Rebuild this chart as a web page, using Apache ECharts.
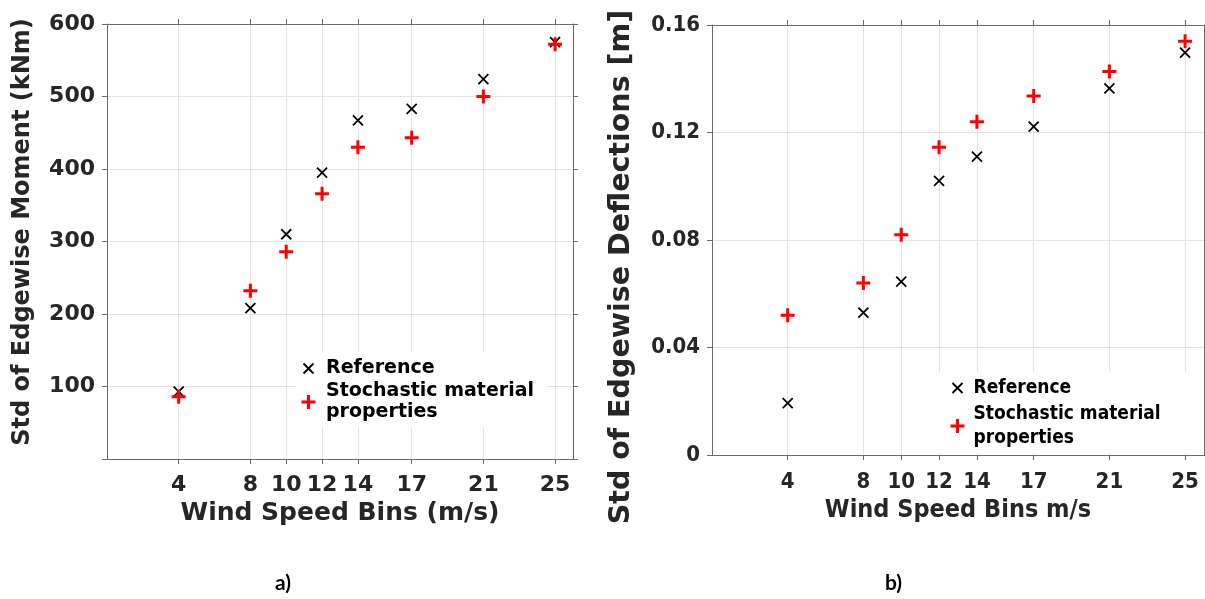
<!DOCTYPE html>
<html>
<head>
<meta charset="utf-8">
<script src="https://cdn.jsdelivr.net/npm/echarts@6/dist/echarts.min.js"></script>
<style>
  html, body { margin: 0; padding: 0; background: #ffffff; }
  #chart { width: 1205px; height: 599px; }
</style>
</head>
<body>
<div id="chart"></div>
<script>
// Wind speed bins (m/s) shared by both panels
const windBins = [4, 8, 10, 12, 14, 17, 21, 25];

// Panel a) std of edgewise moment (kNm)
const momentReference  = [93, 208, 310, 395, 467, 483, 524, 575];
const momentStochastic = [86, 232, 286, 366, 430, 443, 500, 572];

// Panel b) std of edgewise deflections (m)
const deflReference  = [0.0193, 0.053, 0.0645, 0.102, 0.111, 0.1222, 0.1364, 0.1497];
const deflStochastic = [0.052, 0.064, 0.082, 0.1145, 0.124, 0.1336, 0.1427, 0.154];

const seriesNames = ['Reference', 'Stochastic material properties'];

const FONT = '"DejaVu Sans", sans-serif';
const FONT_C = '"DejaVu Sans Condensed", "DejaVu Sans", sans-serif';
const TEXT = '#262626';
const AXIS = '#6b6b6b';
const GRID = '#e3e3e3';

// marker shapes: a thin cross for the reference, a plus for the stochastic runs
const crossPath = 'path://M0,0L10,10M10,0L0,10';
const plusPath = 'path://M7,0L7,14M0,7L14,7';
const crossLegendPath = 'path://M2,2L12,12M12,2L2,12M0,0M14,14';

const crossStyle = { color: '#000000', borderColor: '#000000', borderWidth: 1.8, opacity: 1 };
const plusStyle = { color: '#ff0000', borderColor: '#ff0000', borderWidth: 3, opacity: 1 };

function pairs(xs, ys) { return xs.map((x, i) => [x, ys[i]]); }

function bottomAxis(grid, name, family, gap, margin) {
  return {
    gridIndex: grid, type: 'value', position: 'bottom', min: 0, max: 26,
    axisLine: { show: true, onZero: false, lineStyle: { color: AXIS, width: 1 } },
    axisTick: { show: true, inside: false, length: 5, customValues: windBins, lineStyle: { color: AXIS } },
    axisLabel: { customValues: windBins, margin: margin, color: TEXT, fontFamily: family, fontWeight: 'bold', fontSize: 22 },
    splitLine: { show: true, lineStyle: { color: GRID, width: 1 } },
    name: name, nameLocation: 'middle', nameGap: gap,
    nameTextStyle: { color: TEXT, fontFamily: family, fontWeight: 'bold', fontSize: 25 }
  };
}
function topAxis(grid) {
  return {
    gridIndex: grid, type: 'value', position: 'top', min: 0, max: 26,
    axisLine: { show: true, onZero: false, lineStyle: { color: AXIS, width: 1 } },
    axisTick: { show: true, inside: false, length: 5, customValues: windBins, lineStyle: { color: AXIS } },
    axisLabel: { show: false },
    splitLine: { show: false }
  };
}
function leftAxis(grid, max, interval, formatter, family) {
  return {
    gridIndex: grid, type: 'value', position: 'left', min: 0, max: max, interval: interval,
    axisLine: { show: true, onZero: false, lineStyle: { color: AXIS, width: 1 } },
    axisTick: { show: true, inside: false, length: 5, lineStyle: { color: AXIS } },
    axisLabel: { margin: 12, formatter: formatter, color: TEXT, fontFamily: family, fontWeight: 'bold', fontSize: 22 },
    splitLine: { show: true, lineStyle: { color: GRID, width: 1 } }
  };
}
function rightAxis(grid, max, interval) {
  return {
    gridIndex: grid, type: 'value', position: 'right', min: 0, max: max, interval: interval,
    axisLine: { show: true, onZero: false, lineStyle: { color: AXIS, width: 1 } },
    axisTick: { show: true, inside: false, length: 5, lineStyle: { color: AXIS } },
    axisLabel: { show: false },
    splitLine: { show: false }
  };
}

function legendBlock(left, top, padding, itemWidth, family, fontSize, lineHeight, itemGap) {
  return {
    orient: 'vertical', left: left, top: top, padding: padding,
    backgroundColor: '#ffffff', itemGap: itemGap,
    itemWidth: itemWidth, itemHeight: 14, selectedMode: false,
    data: [
      { name: seriesNames[0], icon: crossLegendPath, itemStyle: crossStyle },
      { name: seriesNames[1], icon: plusPath, itemStyle: plusStyle }
    ],
    formatter: n => n.replace(' properties', '\nproperties'),
    textStyle: { color: '#000000', fontFamily: family, fontWeight: 'bold', fontSize: fontSize, lineHeight: lineHeight }
  };
}

const chart = echarts.init(document.getElementById('chart'), null, { renderer: 'canvas' });

chart.setOption({
  animation: false,
  backgroundColor: '#ffffff',
  grid: [
    { left: 107, top: 24, width: 466, height: 435, containLabel: false },
    { left: 712, top: 25, width: 492, height: 430, containLabel: false }
  ],
  xAxis: [
    bottomAxis(0, 'Wind Speed Bins (m/s)', FONT, 40, 15),
    topAxis(0),
    bottomAxis(1, 'Wind Speed Bins m/s', FONT_C, 42, 16),
    topAxis(1)
  ],
  yAxis: [
    leftAxis(0, 600, 100, v => (v === 0 ? '' : String(v)), FONT),
    rightAxis(0, 600, 100),
    leftAxis(1, 0.16, 0.04, v => (v === 0 ? '0' : v.toFixed(2)), FONT_C),
    rightAxis(1, 0.16, 0.04)
  ],
  legend: [
    legendBlock(295, 352, [6, 13, 4, 5], 25, FONT, 19, 21, 2),
    legendBlock(934, 372, [4, 37, 3, 15], 22, FONT_C, 19, 24, 2)
  ],
  series: [
    { name: seriesNames[0], type: 'scatter', xAxisIndex: 0, yAxisIndex: 0,
      symbol: crossPath, symbolSize: 10, itemStyle: crossStyle, data: pairs(windBins, momentReference), z: 3 },
    { name: seriesNames[1], type: 'scatter', xAxisIndex: 0, yAxisIndex: 0,
      symbol: plusPath, symbolSize: 14, itemStyle: plusStyle, data: pairs(windBins, momentStochastic), z: 4 },
    { name: seriesNames[0], type: 'scatter', xAxisIndex: 2, yAxisIndex: 2,
      symbol: crossPath, symbolSize: 10, itemStyle: crossStyle, data: pairs(windBins, deflReference), z: 3 },
    { name: seriesNames[1], type: 'scatter', xAxisIndex: 2, yAxisIndex: 2,
      symbol: plusPath, symbolSize: 14, itemStyle: plusStyle, data: pairs(windBins, deflStochastic), z: 4 }
  ],
  graphic: [
    { type: 'text', x: 22.5, y: 232, rotation: Math.PI / 2,
      style: { text: 'Std of Edgewise Moment (kNm)', fill: TEXT, font: 'bold 24px "DejaVu Sans"',
               align: 'center', verticalAlign: 'middle', textAlign: 'center', textVerticalAlign: 'middle' } },
    { type: 'text', x: 622, y: 267, rotation: Math.PI / 2,
      style: { text: 'Std of Edgewise Deflections [m]', fill: TEXT, font: 'bold 28.5px "DejaVu Sans"',
               align: 'center', verticalAlign: 'middle', textAlign: 'center', textVerticalAlign: 'middle' } },
    { type: 'text', x: 283, y: 583,
      style: { text: 'a)', fill: '#000000', font: 'bold 21px Lato, "Open Sans", sans-serif',
               align: 'center', verticalAlign: 'middle', textAlign: 'center', textVerticalAlign: 'middle' } },
    { type: 'text', x: 893.5, y: 583,
      style: { text: 'b)', fill: '#000000', font: 'bold 21px Lato, "Open Sans", sans-serif',
               align: 'center', verticalAlign: 'middle', textAlign: 'center', textVerticalAlign: 'middle' } }
  ]
});
</script>
</body>
</html>
